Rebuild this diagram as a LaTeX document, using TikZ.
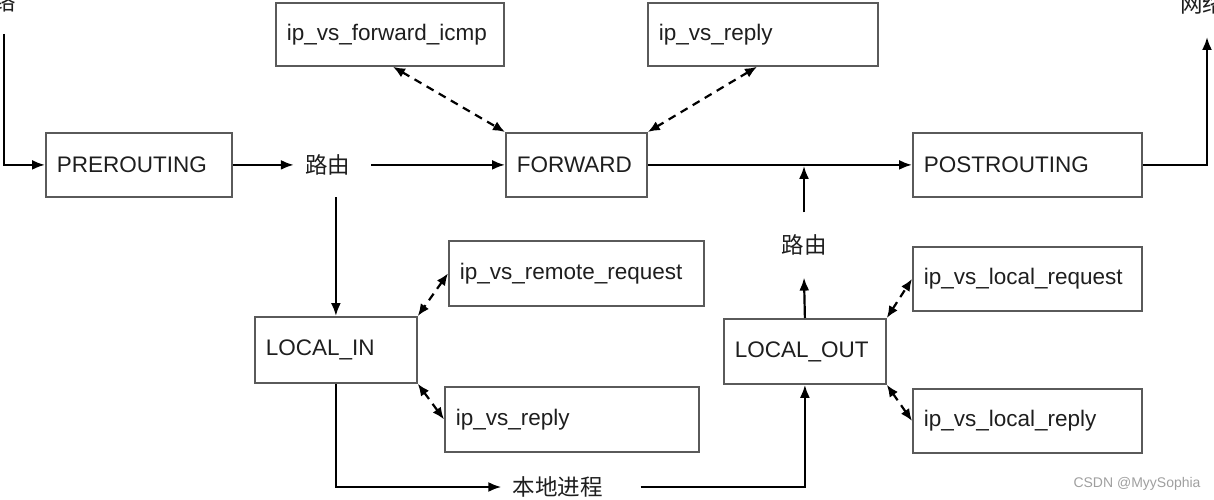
\documentclass[tikz,border=0pt]{standalone}
\usepackage{fontspec}
\setmainfont{Liberation Sans}
\newfontfamily\cjk{Noto Sans CJK SC}
\usetikzlibrary{arrows.meta}

\definecolor{boxgray}{HTML}{5A5A5A}
\definecolor{txtgray}{HTML}{1E1E1E}

\tikzset{
  hookbox/.style={draw=boxgray, line width=1.8pt, anchor=north west, inner xsep=11pt, inner ysep=0pt, align=left, text=txtgray},
  lbl/.style={inner xsep=11pt, inner ysep=22pt, text=txtgray, font=\fontsize{22.5}{27}\selectfont\cjk},
  flow/.style={line width=2.2pt, -{Latex[length=13pt,width=10pt]}},
  hookflow/.style={line width=2.2pt, dash pattern=on 8pt off 6pt, {Latex[length=12pt,width=10pt]}-{Latex[length=12pt,width=10pt]}}
}

\begin{document}
\begin{tikzpicture}[x=1pt,y=-1pt,font=\fontsize{22.5}{27}\selectfont]
\clip (0,0) rectangle (1214,500);

% Hook Node
\node (pre) at (45,132) [hookbox, text width=164pt, minimum height=64pt] {PREROUTING};
% Hook Node
\node (icmp) at (275,2) [hookbox, text width=206pt, minimum height=63pt] {ip\_vs\_forward\_icmp};
% Hook Node
\node (rtop) at (647,2) [hookbox, text width=208pt, minimum height=63pt] {ip\_vs\_reply};
% Hook Node
\node (fwd) at (505,132) [hookbox, text width=119pt, minimum height=64pt] {FORWARD};
% Hook Node
\node (post) at (912,132) [hookbox, text width=207pt, minimum height=64pt] {POSTROUTING};
% Hook Node
\node (remote) at (448,240) [hookbox, text width=233pt, minimum height=65pt] {ip\_vs\_remote\_request};
% Hook Node
\node (lin) at (254,316) [hookbox, text width=140pt, minimum height=66pt] {LOCAL\_IN};
% Hook Node
\node (lreply) at (444,386) [hookbox, text width=232pt, minimum height=65pt] {ip\_vs\_reply};
% Hook Node
\node (lout) at (723,318) [hookbox, text width=140pt, minimum height=65pt] {LOCAL\_OUT};
% Hook Node
\node (lreq) at (912,246) [hookbox, text width=207pt, minimum height=64pt] {ip\_vs\_local\_request};
% Hook Node
\node (lrep2) at (912,388) [hookbox, text width=207pt, minimum height=64pt] {ip\_vs\_local\_reply};

% Text Node
\node (rt1) at (327.5,0 |- pre.east) [lbl] {路由};
% Text Node
\node (rt2) at (804,245) [lbl] {路由};
% Text Node
\node (proc) at (557.5,487) [lbl, inner ysep=0pt] {本地进程};
% Text Node
\node (netin) at (16,2) [lbl, anchor=east, inner sep=0pt] {网络};
% Text Node
\node (netout) at (1180,4) [lbl, anchor=west, inner sep=0pt] {网络};
% Text Node
\node (mark) at (1137,484) [text=gray!75, font=\fontsize{14}{16}\selectfont] {CSDN @MyySophia};

\coordinate (inl) at (4,34);
\coordinate (outr) at (1207,37);

% Connection
\draw [flow] (inl) |- (pre.west);
% Connection
\draw [flow] (pre.east) -- (rt1.west);
% Connection
\draw [flow] ([xshift=10pt]rt1.east) -- (fwd.west);
% Connection
\draw [flow] (rt1.south -| lin.north) -- (lin.north);
% Connection
\draw [flow] (fwd.east) -- (post.west);
% Connection
\draw [flow] (post.east) -| (outr);
% Connection
\draw [flow] (lin.south) |- (proc.west);
% Connection
\draw [flow] ([xshift=27pt]proc.east) -| (lout.south);
% Connection
\draw [flow] (lout.north) -- (rt2.south);
% Connection
\draw [flow, shorten >=1pt] (rt2.north) -- (rt2.north |- fwd.east);
% Connection
\draw [hookflow] ([xshift=118pt]icmp.south west) -- (fwd.north west);
% Connection
\draw [hookflow] ([xshift=110pt]rtop.south west) -- (fwd.north east);
% Connection
\draw [hookflow] (remote.west) -- (lin.north east);
% Connection
\draw [hookflow] (lin.south east) -- (lreply.west);
% Connection
\draw [hookflow] (lout.north east) -- (lreq.west);
% Connection
\draw [hookflow] (lout.south east) -- (lrep2.west);

\end{tikzpicture}
\end{document}
